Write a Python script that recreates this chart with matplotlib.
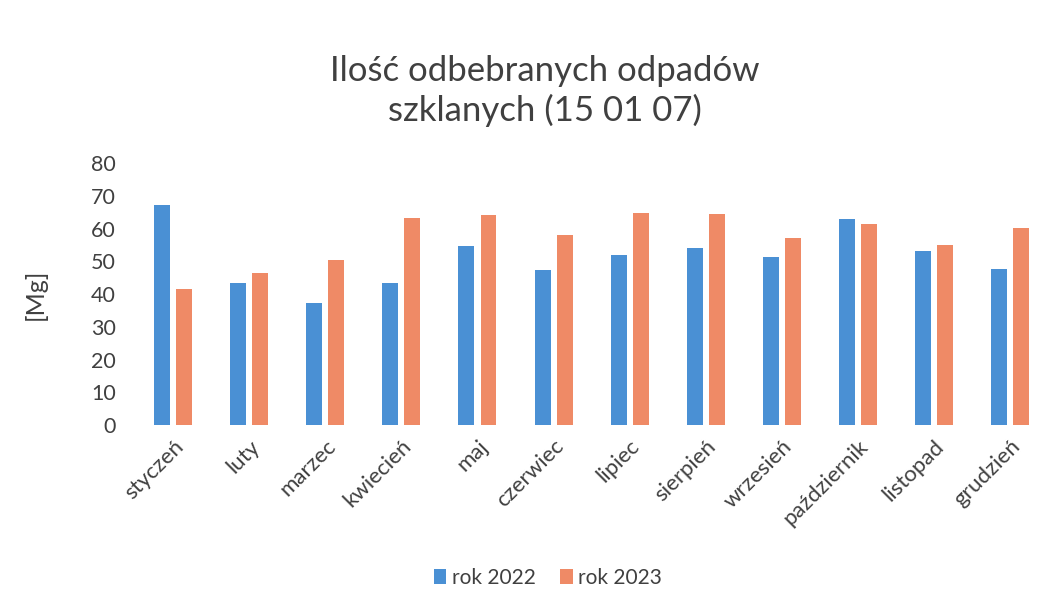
import numpy as np
import matplotlib.pyplot as plt

plt.rcParams['font.family'] = ['Lato', 'DejaVu Sans']

months = ["styczeń", "luty", "marzec", "kwiecień", "maj", "czerwiec",
          "lipiec", "sierpień", "wrzesień", "październik", "listopad", "grudzień"]
rok_2022 = [67.2, 43.3, 37.3, 43.5, 54.7, 47.3, 51.9, 54.0, 51.3, 62.9, 53.1, 47.7]
rok_2023 = [41.4, 46.3, 50.4, 63.1, 64.1, 58.2, 64.9, 64.5, 57.2, 61.3, 55.0, 60.2]

blue = "#4a90d4"
orange = "#ef8a66"

fig = plt.figure(figsize=(10.64, 6.02), dpi=100)
ax = fig.add_axes([0.127, 0.294, 0.858, 0.435])

x = np.arange(len(months))
w = 0.21
ax.bar(x - 0.145, rok_2022, w, color=blue, label="rok 2022")
ax.bar(x + 0.145, rok_2023, w, color=orange, label="rok 2023")

ax.set_xlim(-0.5, len(months) - 0.5)
ax.set_ylim(0, 80)
ax.set_yticks(range(0, 81, 10))
ax.set_xticks(x)
ax.set_xticklabels(months, rotation=45, ha="right", rotation_mode="anchor")
ax.tick_params(axis="both", length=0, labelsize=15.5, colors="#404040")
ax.tick_params(axis="x", pad=8, labelsize=16)
ax.tick_params(axis="y", pad=14)
for s in ax.spines.values():
    s.set_visible(False)
ax.set_ylabel("[Mg]", fontsize=18, color="#404040", labelpad=32)

fig.text(0.512, 0.849, "Ilość odbebranych odpadów\nszklanych (15 01 07)",
         ha="center", va="center", fontsize=25, color="#404040", linespacing=1.25)

fig.legend(loc="center", bbox_to_anchor=(0.515, 0.04), ncol=2, frameon=False,
           fontsize=15, handlelength=0.6, handleheight=0.7, handletextpad=0.25,
           columnspacing=1.2, labelcolor="#404040")

fig.savefig("out.png", dpi=100, facecolor="white")
